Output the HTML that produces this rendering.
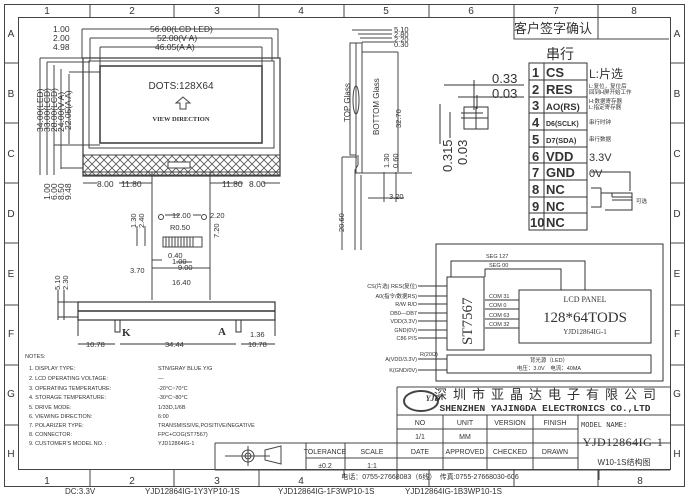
<!DOCTYPE html>
<html><head><meta charset="utf-8"><style>
html,body{margin:0;padding:0;background:#fff;}
svg{display:block;}
text{font-family:"Liberation Sans","Noto Sans CJK SC",sans-serif;fill:#333;}
.s{font-family:"Liberation Serif","Noto Serif CJK SC",serif;}
.m{font-family:"Liberation Mono","Noto Sans CJK SC",monospace;}
</style></head><body>
<svg width="688" height="496" viewBox="0 0 688 496" xmlns="http://www.w3.org/2000/svg">
<rect x="0" y="0" width="688" height="496" fill="#fff"/>
<g stroke="#444" fill="none" stroke-width="1">
<rect x="4.5" y="4.5" width="680" height="482"/>
<rect x="18.5" y="17.5" width="652" height="452"/>
<path d="M90 4v13M174 4v13M259 4v13M344 4v13M429 4v13M514 4v13M598 4v13"/>
<path d="M90 470v16M174 470v16M259 470v16M344 470v6M429 470v16M514 470v16M598 470v16"/>
<path d="M4 63h14M4 123h14M4 183h14M4 243h14M4 305h14M4 365h14M4 425h14"/>
<path d="M670 63h14M670 123h14M670 183h14M670 243h14M670 305h14M670 365h14M670 425h14"/>
</g>
<g font-size="10" class="s" text-anchor="middle">
<text x="47" y="14">1</text><text x="132" y="14">2</text><text x="217" y="14">3</text><text x="301" y="14">4</text><text x="386" y="14">5</text><text x="471" y="14">6</text><text x="556" y="14">7</text><text x="634" y="14">8</text>
<text x="47" y="484">1</text><text x="132" y="484">2</text><text x="217" y="484">3</text><text x="301" y="484">4</text><text x="640" y="484">8</text>
<text x="11" y="37">A</text><text x="11" y="97">B</text><text x="11" y="157">C</text><text x="11" y="217">D</text><text x="11" y="277">E</text><text x="11" y="337">F</text><text x="11" y="397">G</text><text x="11" y="457">H</text>
<text x="677" y="37">A</text><text x="677" y="97">B</text><text x="677" y="157">C</text><text x="677" y="217">D</text><text x="677" y="277">E</text><text x="677" y="337">F</text><text x="677" y="397">G</text><text x="677" y="457">H</text>
</g>

<defs><pattern id="h" width="8" height="8" patternUnits="userSpaceOnUse"><path d="M0 0L8 8M8 0L0 8" stroke="#555" stroke-width="0.8"/></pattern></defs>
<g stroke="#444" fill="none">
<rect x="83" y="58" width="197" height="118" stroke-width="1.3"/>
<rect x="89" y="61" width="185" height="87"/>
<rect x="100" y="66" width="162" height="77" stroke-width="1.6"/>
<rect x="83" y="155" width="197" height="20" fill="url(#h)"/>
<path d="M83 172h197"/>
<path d="M152 172v128M210 172v128"/>
<path d="M168 162h22v6h-22z" fill="#fff"/>
<path d="M82 29h196M90 38h182M100 47h162M82 29v29M278 29v29M90 38v23M272 38v23M100 47v19M262 47v19"/>
<path d="M40 58v117M47 62v113M54 65v110M61 69v100M69 74v70"/>
<path d="M40 58h43M47 62h43M54 145h46M61 168h22M69 72h31"/>
<path d="M83 183h14M119 183h33M210 183h33M263 183h17"/>
</g>
<g font-size="8.5" class="m" fill="#333">
<text x="150" y="32">56.00(LCD LED)</text>
<text x="157" y="41">52.00(V A)</text>
<text x="155" y="50">46.05(A A)</text>
<text x="53" y="32">1.00</text><text x="53" y="41">2.00</text><text x="53" y="50">4.98</text>
<text x="97" y="187">8.00</text><text x="121" y="187">11.80</text><text x="222" y="187">11.80</text><text x="249" y="187">8.00</text>
</g>
<g font-size="8.5" class="m">
<text transform="translate(43,132) rotate(-90)">34.00(LED)</text>
<text transform="translate(50,132) rotate(-90)">33.00(LCD)</text>
<text transform="translate(57,132) rotate(-90)">28.00(LCD)</text>
<text transform="translate(64,132) rotate(-90)">24.00(V A)</text>
<text transform="translate(71,130) rotate(-90)">22.05(A A)</text>
<text transform="translate(50,200) rotate(-90)">1.00</text>
<text transform="translate(57,200) rotate(-90)">6.00</text>
<text transform="translate(64,200) rotate(-90)">8.50</text>
<text transform="translate(71,200) rotate(-90)">9.48</text>
</g>
<text x="181" y="89" font-size="10" text-anchor="middle">DOTS:128X64</text>
<path d="M176 103l7 -6 7 6h-4v6h-6v-6z" fill="none" stroke="#444"/>
<text x="181" y="121" font-size="6.5" font-weight="bold" class="s" text-anchor="middle">VIEW DIRECTION</text>

<g stroke="#444" fill="none">
<rect x="163" y="237" width="39" height="10"/>
<path d="M166 237v10M169 237v10M172 237v10M175 237v10M178 237v10M181 237v10M184 237v10M187 237v10M190 237v10M193 237v10"/>
<circle cx="161" cy="217" r="2.5"/><circle cx="204" cy="217" r="2.5"/>
<path d="M145 226v20M137 226v20M165 215h14M193 215h8M152 268h58M152 260h10M176 262h16"/>
</g>
<g font-size="7.5" class="m">
<text x="172" y="218">12.00</text><text x="210" y="218">2.20</text><text x="170" y="230">R0.50</text>
<text x="168" y="258">0.40</text><text x="172" y="264">1.00</text><text x="178" y="270">9.00</text>
<text x="130" y="273">3.70</text><text x="172" y="285">16.40</text>
<text transform="translate(136,228) rotate(-90)">1.30</text>
<text transform="translate(144,228) rotate(-90)">2.40</text>
<text transform="translate(219,238) rotate(-90)">7.20</text>
</g>

<g stroke="#333" fill="none">
<rect x="78" y="302" width="197" height="18" stroke-width="1.2"/>
<path d="M78 311h197" stroke-width="1.5"/>
<path d="M115 320v12h5v-12M236 320v12h5v-12"/>
<path d="M58 302h20M58 317h20M64 290v30M58 290v30M78 320v16M275 320v16M78 344h37M120 344h116M241 344h34"/>
</g>
<text x="122" y="336" font-size="11" font-weight="bold" class="s">K</text>
<text x="218" y="335" font-size="11" font-weight="bold" class="s">A</text>
<g font-size="7.5" class="m">
<text x="86" y="347">10.78</text><text x="165" y="347">34.44</text><text x="248" y="347">10.78</text><text x="250" y="337">1.36</text>
<text transform="translate(60,290) rotate(-90)">5.10</text>
<text transform="translate(68,290) rotate(-90)">2.30</text>
</g>

<g font-size="5.5">
<text x="25" y="358">NOTES:</text>
<text x="29" y="370">1. DISPLAY TYPE:</text><text x="158" y="370">STN/GRAY  BLUE Y/G</text>
<text x="29" y="380">2. LCD OPERATING VOLTAGE:</text><text x="158" y="380">—</text>
<text x="29" y="390">3. OPERATING TEMPERATURE:</text><text x="158" y="390">-20°C~70°C</text>
<text x="29" y="399">4. STORAGE TEMPERATURE:</text><text x="158" y="399">-30°C~80°C</text>
<text x="29" y="409">5. DRIVE MODE:</text><text x="158" y="409">1/33D,1/6B</text>
<text x="29" y="418">6. VIEWING DIRECTION:</text><text x="158" y="418">6:00</text>
<text x="29" y="427">7. POLARIZER TYPE:</text><text x="158" y="427">TRANSMISSIVE,POSITIVE/NEGATIVE</text>
<text x="29" y="436">8. CONNECTOR:</text><text x="158" y="436">FPC+COG(ST7567)</text>
<text x="29" y="445">9. CUSTOMER'S MODEL NO. :</text><text x="158" y="445">YJD12864IG-1</text>
</g>

<g stroke="#444" fill="none">
<rect x="350" y="43" width="6" height="112"/>
<rect x="356" y="43" width="6" height="130"/>
<ellipse cx="356" cy="100" rx="3" ry="14"/>
<path d="M358 155v10l-3 5v80M361 175v75M362 173h50M342 157v93M342 157h15"/>
<path d="M352 30h40M358 34h34M360 38h32M362 42h32M362 52h36M398 52v120"/>
<path d="M368 198h36M384 172v30M396 172v30"/>
</g>
<g font-size="7.5" class="m">
<text x="394" y="32">5.10</text><text x="394" y="37">2.80</text><text x="394" y="42">2.20</text><text x="394" y="47">0.30</text>
<text x="389" y="199">3.20</text>
<text transform="translate(401,128) rotate(-90)">32.70</text>
<text transform="translate(389,168) rotate(-90)">1.30</text>
<text transform="translate(398,168) rotate(-90)">0.60</text>
<text transform="translate(344,232) rotate(-90)">20.60</text>
<text transform="translate(350,122) rotate(-90)" font-size="8">TOP Glass</text>
<text transform="translate(379,135) rotate(-90)" font-size="8">BOTTOM Glass</text>
</g>

<g stroke="#333" fill="none">
<rect x="464" y="107" width="24" height="22"/><path d="M476 107v22M464 118h24"/>
<path d="M444 85h80M458 97h66M461 113h22M461 118h22M474 80v30M477 95v14M440 104v40M450 112v26"/>
</g>
<g font-size="13" fill="#555" class="m">
<text x="492" y="83">0.33</text><text x="492" y="98">0.03</text>
<text transform="translate(452,172) rotate(-90)">0.315</text>
<text transform="translate(467,165) rotate(-90)">0.03</text>
</g>

<g stroke="#444" fill="none"><path d="M514 17v22h155M598 17v22"/></g>
<text x="514" y="33" font-size="13">客户签字确认</text>

<text x="546" y="59" font-size="14">串行</text>
<g stroke="#333" fill="none">
<rect x="529" y="63" width="58" height="167"/>
<path d="M544 63v167M529 80h58M529 97h58M529 113h58M529 130h58M529 147h58M529 163h58M529 180h58M529 197h58M529 213h58"/>
<path d="M591 172h39v19M591 188h10M601 188v19h-10M601 193h31v17h-27M612 193v4M612 197h10M612 200h10M622 197h10M622 200h10"/>
</g>
<g font-size="13" font-weight="bold" class="s" fill="#111">
<text x="532" y="77">1</text><text x="546" y="77">CS</text>
<text x="532" y="94">2</text><text x="546" y="94">RES</text>
<text x="532" y="110">3</text><text x="546" y="110" font-size="9.5">AO(RS)</text>
<text x="532" y="127">4</text><text x="546" y="126" font-size="7">D6(SCLK)</text>
<text x="532" y="144">5</text><text x="546" y="143" font-size="7.5">D7(SDA)</text>
<text x="532" y="161">6</text><text x="546" y="161">VDD</text>
<text x="532" y="177">7</text><text x="546" y="177">GND</text>
<text x="532" y="194">8</text><text x="546" y="194">NC</text>
<text x="532" y="211">9</text><text x="546" y="211">NC</text>
<text x="530" y="227">10</text><text x="546" y="227">NC</text>
</g>
<g class="s" fill="#222">
<text x="589" y="78" font-size="12">L:片选</text>
<text x="589" y="88" font-size="5.5">L:复位，复位后</text>
<text x="589" y="94" font-size="5.5">回到H屏开始工作</text>
<text x="589" y="103" font-size="5.5">H:数据寄存器</text>
<text x="589" y="109" font-size="5.5">L:指定寄存器</text>
<text x="589" y="124" font-size="5.5">串行时钟</text>
<text x="589" y="141" font-size="5.5">串行数据</text>
<text x="589" y="161" font-size="11">3.3V</text>
<text x="589" y="177" font-size="11">0V</text>
<text x="636" y="203" font-size="5.5">可选</text>
</g>

<g stroke="#333" fill="none">
<rect x="436" y="244" width="227" height="137"/>
<rect x="447" y="277" width="37" height="73"/>
<rect x="519" y="290" width="132" height="53"/>
<rect x="447" y="355" width="204" height="18"/>
<path d="M451 277v-16h134v29M485 277v-8h76v21M485 300h34M485 309h34M485 319h34M485 328h34"/>
<path d="M418 286h29M418 296h29M418 304h29M418 313h29M418 321h29M418 330h29M418 338h29M418 359h29M418 370h29"/>
</g>
<g font-size="5.5" class="s">
<text x="486" y="258">SEG 127</text><text x="489" y="267">SEG 00</text>
<text x="489" y="298">COM 31</text><text x="489" y="307">COM 0</text><text x="489" y="317">COM 63</text><text x="489" y="326">COM 32</text>
<text x="417" y="288" text-anchor="end">CS(片选) RES(复位)</text>
<text x="417" y="298" text-anchor="end">A0(指令/数据RS)</text>
<text x="417" y="306" text-anchor="end">R/W  R/D</text>
<text x="417" y="315" text-anchor="end">DB0—DB7</text>
<text x="417" y="323" text-anchor="end">VDD(3.3V)</text>
<text x="417" y="332" text-anchor="end">GND(0V)</text>
<text x="417" y="340" text-anchor="end">C86 P/S</text>
<text x="417" y="361" text-anchor="end">A(VDD/3.3V)</text>
<text x="417" y="372" text-anchor="end">K(GND/0V)</text>
<text x="420" y="356">R(20Ω)</text>
<text x="549" y="362" text-anchor="middle">背光源（LED）</text>
<text x="549" y="370" text-anchor="middle">电压：3.0V　电流：40MA</text>
</g>
<text transform="translate(472,345) rotate(-90)" font-size="15" class="s">ST7567</text>
<text x="585" y="302" font-size="8" class="s" text-anchor="middle">LCD PANEL</text>
<text x="585" y="322" font-size="15" class="s" text-anchor="middle">128*64TODS</text>
<text x="585" y="334" font-size="7" class="s" text-anchor="middle">YJD12864IG-1</text>

<g stroke="#444" fill="none">
<path d="M397 387h273M397 387v83M397 415h273M397 429h181M215 443h455M215 443v27M306 443v27M345 443v27M306 458h272M443 415v55M487 415v55M533 415v55M578 415v55M215 470h455M397 470v10M599 470v10"/>
<ellipse cx="421" cy="401" rx="17" ry="10" stroke-width="2"/>
<circle cx="248" cy="456" r="6"/><circle cx="248" cy="456" r="3"/><path d="M225 456h45M248 446v20M265 450l16-4v18l-16-4z"/>
</g>
<text x="433" y="401" font-size="8" font-style="italic" font-weight="bold" class="s" text-anchor="middle">YJD</text>
<text x="548" y="399" font-size="13" text-anchor="middle" letter-spacing="6">深圳市亚晶达电子有限公司</text>
<text x="545" y="411" font-size="9.5" class="m" text-anchor="middle" font-weight="bold">SHENZHEN YAJINGDA ELECTRONICS CO.,LTD</text>
<g font-size="7" class="m" text-anchor="middle">
<text x="420" y="425">NO</text><text x="465" y="425">UNIT</text><text x="510" y="425">VERSION</text><text x="555" y="425">FINISH</text>
<text x="420" y="439">1/1</text><text x="465" y="439">MM</text>
<text x="420" y="454">DATE</text><text x="465" y="454">APPROVED</text><text x="510" y="454">CHECKED</text><text x="555" y="454">DRAWN</text>
<text x="325" y="454">TOLERANCE</text><text x="372" y="454">SCALE</text>
<text x="325" y="468">±0.2</text><text x="372" y="468">1:1</text>
<text x="430" y="479">电话：0755-27668083（6线）　传真:0755-27668030-606</text>
</g>
<text x="581" y="427" font-size="7" class="m">MODEL NAME:</text>
<text x="623" y="446" font-size="12" class="s" text-anchor="middle" letter-spacing="0.5">YJD12864IG-1</text>
<text x="624" y="465" font-size="8" text-anchor="middle">W10-1S结构图</text>

<g font-size="8" class="m" fill="#222">
<text x="65" y="494">DC:3.3V</text>
<text x="145" y="494">YJD12864IG-1Y3YP10-1S</text>
<text x="278" y="494">YJD12864IG-1F3WP10-1S</text>
<text x="405" y="494">YJD12864IG-1B3WP10-1S</text>
</g>
</svg>
</body></html>
